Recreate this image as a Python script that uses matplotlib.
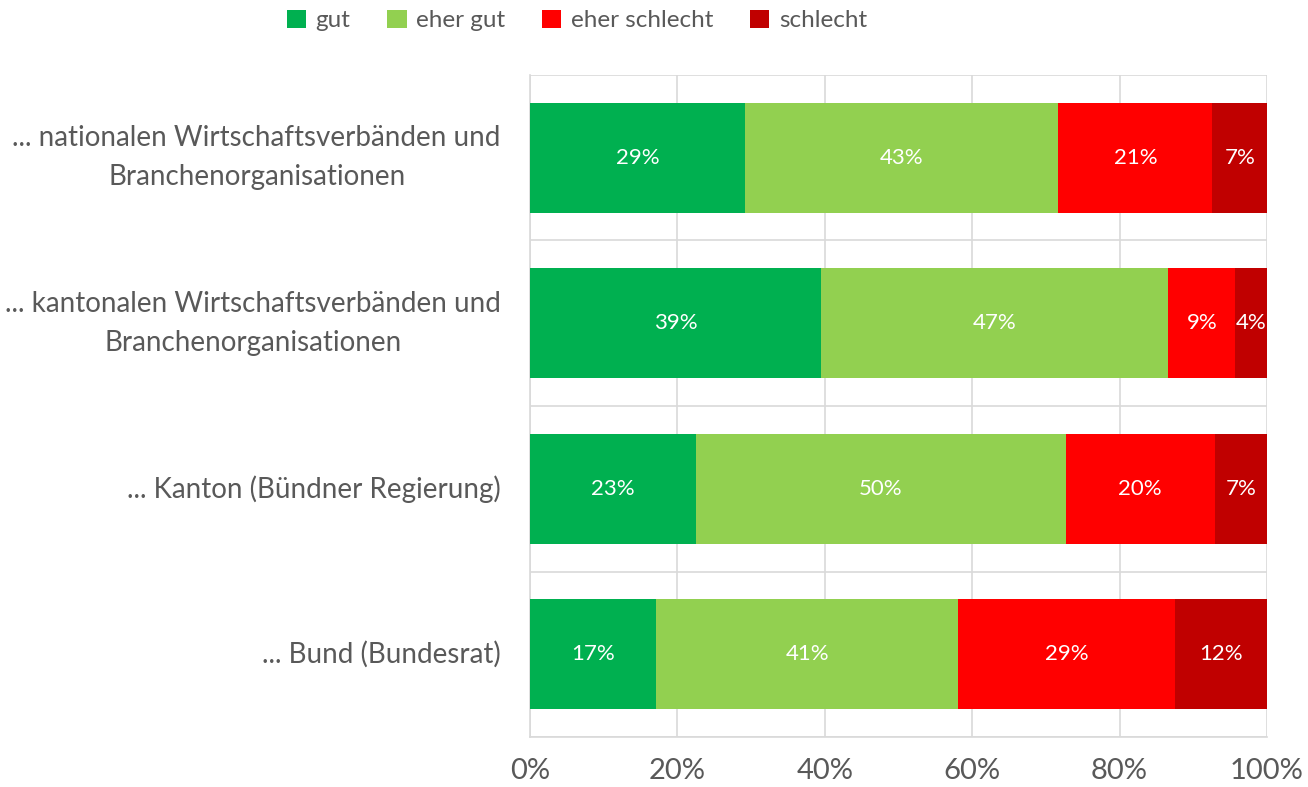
import numpy as np
import matplotlib.pyplot as plt
from matplotlib.patches import Patch

categories = [
    "... nationalen Wirtschaftsverbänden und\nBranchenorganisationen",
    "... kantonalen Wirtschaftsverbänden und\nBranchenorganisationen",
    "... Kanton (Bündner Regierung)",
    "... Bund (Bundesrat)",
]
series_names = ["gut", "eher gut", "eher schlecht", "schlecht"]
gut = [29.2, 39.5, 22.5, 17.1]
eher_gut = [42.5, 47.1, 50.2, 41.0]
eher_schlecht = [20.9, 9.1, 20.2, 29.4]
schlecht = [7.4, 4.3, 7.1, 12.5]
labels_gut = ["29%", "39%", "23%", "17%"]
labels_eher_gut = ["43%", "47%", "50%", "41%"]
labels_eher_schlecht = ["21%", "9%", "20%", "29%"]
labels_schlecht = ["7%", "4%", "7%", "12%"]
colors = ["#00B050", "#92D050", "#FF0000", "#C00000"]

plt.rcParams['font.family'] = ['Lato', 'DejaVu Sans']
TXT = "#595959"

fig = plt.figure(figsize=(13.08, 7.87), dpi=100)
ax = fig.add_axes([530 / 1308, 50 / 787, 737 / 1308, 662 / 787])

y = np.arange(len(categories))
left = np.zeros(len(categories))
all_vals = [gut, eher_gut, eher_schlecht, schlecht]
all_labels = [labels_gut, labels_eher_gut, labels_eher_schlecht, labels_schlecht]
for vals, labs, col, name in zip(all_vals, all_labels, colors, series_names):
    vals = np.array(vals)
    bars = ax.barh(y, vals, left=left, height=0.665, color=col, label=name, zorder=3)
    for b, lab in zip(bars, labs):
        ax.text(b.get_x() + b.get_width() / 2, b.get_y() + b.get_height() / 2, lab,
                ha='center', va='center', color='white', fontsize=16, zorder=4)
    left += vals

ax.set_xlim(0, 100)
ax.set_ylim(len(categories) - 0.5, -0.5)
ax.set_xticks(np.arange(0, 101, 20))
ax.set_xticklabels([f"{v}%" for v in range(0, 101, 20)])
ax.set_yticks(y)
ax.set_yticklabels(categories, ha='right', multialignment='center', linespacing=1.6)
for lbl in ax.get_yticklabels():
    lbl.set_va('center')
ax.set_yticks(np.arange(-0.5, len(categories)), minor=True)
ax.tick_params(axis='y', which='both', length=0, pad=21, labelsize=20, labelcolor=TXT)
ax.tick_params(axis='x', length=0, pad=15, labelsize=21, labelcolor=TXT)

ax.grid(axis='x', color='#D9D9D9', linewidth=1.2, zorder=0)
ax.grid(axis='y', which='minor', color='#D9D9D9', linewidth=1.2, zorder=0)
for s in ['top', 'right']:
    ax.spines[s].set_visible(False)
for s in ['left', 'bottom']:
    ax.spines[s].set_color('#D9D9D9')
    ax.spines[s].set_linewidth(1.2)

handles = [Patch(facecolor=c, label=n) for c, n in zip(colors, series_names)]
fig.legend(handles=handles, loc='center', bbox_to_anchor=(0.441, 0.974), ncol=4,
           frameon=False, fontsize=17.5, labelcolor=TXT, handlelength=0.8, handleheight=0.8,
           handletextpad=0.4, columnspacing=1.5)

plt.savefig("out.png", dpi=100)
